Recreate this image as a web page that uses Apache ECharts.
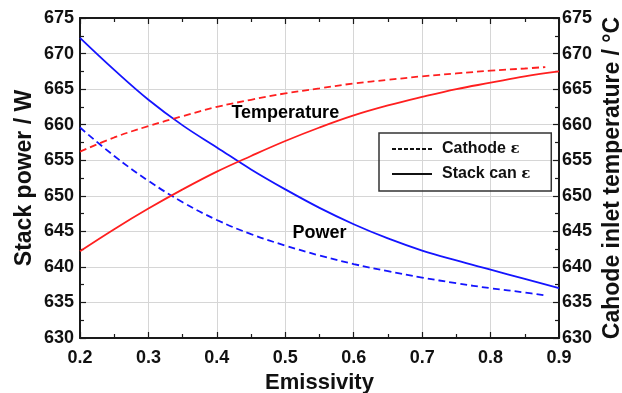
<!DOCTYPE html>
<html>
<head>
<meta charset="utf-8">
<script src="https://cdn.jsdelivr.net/npm/echarts@6/dist/echarts.min.js"></script>
<style>html,body{margin:0;padding:0;background:#fff}#c{width:622px;height:393px}</style>
</head>
<body>
<div id="c"></div>
<script>
// Emissivity values
const xStack = [0.2, 0.25, 0.3, 0.35, 0.4, 0.45, 0.5, 0.55, 0.6, 0.65, 0.7, 0.75, 0.8, 0.85, 0.9];
const xCathode = [0.2, 0.25, 0.3, 0.35, 0.4, 0.45, 0.5, 0.55, 0.6, 0.65, 0.7, 0.75, 0.8, 0.85, 0.88];
// Stack power / W
const powerStackCan = [672.2, 667.7, 663.5, 659.9, 656.8, 653.7, 650.9, 648.3, 646.0, 644.0, 642.3, 640.9, 639.6, 638.3, 637.0];
const powerCathode = [659.6, 655.6, 652.1, 649.1, 646.6, 644.6, 643.0, 641.6, 640.4, 639.4, 638.5, 637.7, 637.0, 636.4, 636.0];
// Cathode inlet temperature / °C
const tempStackCan = [642.2, 645.3, 648.2, 650.9, 653.4, 655.6, 657.7, 659.6, 661.3, 662.7, 663.9, 665.0, 665.9, 666.8, 667.5];
const tempCathode = [656.2, 658.2, 659.8, 661.2, 662.5, 663.5, 664.4, 665.1, 665.8, 666.3, 666.8, 667.2, 667.6, 667.9, 668.1];
const legendNames = ['Cathode ε', 'Stack can ε'];
const annotations = [{text: 'Temperature', coord: [0.5, 661.6]}, {text: 'Power', coord: [0.55, 644.8]}];

const pair = (xs, ys) => xs.map((x, i) => [x, ys[i]]);
const FONT = '"Liberation Sans", Arial, Helvetica, sans-serif';
const BLUE = '#1414ff', RED = '#ff1f1f';
const DASH = [7, 4];

const axisCommon = {
  axisLine: {show: true, onZero: false, lineStyle: {color: '#1a1a1a', width: 2}},
  axisTick: {show: true, inside: true, length: 6, lineStyle: {color: '#1a1a1a', width: 1.2}},
  minorTick: {show: true, splitNumber: 2, length: 4, lineStyle: {color: '#1a1a1a', width: 1.2}},
};

const chart = echarts.init(document.getElementById('c'), null, {renderer: 'canvas'});
chart.setOption({
  animation: false,
  backgroundColor: '#fff',
  grid: {left: 80, right: 63, top: 18, bottom: 55, containLabel: false, outerBoundsMode: 'none'},
  legend: {
    data: legendNames,
    orient: 'vertical',
    left: 379, top: 133,
    padding: [8, 21, 9, 12],
    borderColor: '#333', borderWidth: 1.5,
    itemWidth: 40, itemHeight: 14, itemGap: 9,
    itemStyle: {color: 'rgba(0,0,0,0)', borderColor: 'rgba(0,0,0,0)', borderWidth: 0},
    formatter: n => n.replace(' ε', '') + ' {e|ε}',
    textStyle: {
      fontFamily: FONT, fontWeight: 'bold', fontSize: 16, color: '#111', padding: [0, 0, 0, 5],
      rich: {e: {fontFamily: '"DejaVu Serif", serif', fontSize: 15, fontWeight: 'bold', color: '#111', verticalAlign: 'bottom'}}
    },
    selectedMode: false
  },
  xAxis: [
    Object.assign({}, axisCommon, {
      type: 'value', min: 0.2, max: 0.9, interval: 0.1, position: 'bottom',
      name: 'Emissivity', nameLocation: 'middle', nameGap: 34, nameMoveOverlap: false,
      nameTextStyle: {fontFamily: FONT, fontWeight: 'bold', fontSize: 22, color: '#111'},
      axisLabel: {fontFamily: FONT, fontWeight: 'bold', fontSize: 18, color: '#111', margin: 11, formatter: v => v.toFixed(1)},
      splitLine: {show: true, lineStyle: {color: '#d6d6d6', width: 1}}
    }),
    Object.assign({}, axisCommon, {
      type: 'value', min: 0.2, max: 0.9, interval: 0.1, position: 'top',
      axisLabel: {show: false}, splitLine: {show: false}
    })
  ],
  yAxis: [
    Object.assign({}, axisCommon, {
      type: 'value', min: 630, max: 675, interval: 5, position: 'left',
      name: 'Stack power / W', nameLocation: 'middle', nameGap: 44, nameRotate: 90, nameMoveOverlap: false,
      nameTextStyle: {fontFamily: FONT, fontWeight: 'bold', fontSize: 23, color: '#111'},
      axisLabel: {fontFamily: FONT, fontWeight: 'bold', fontSize: 18, color: '#111', margin: 6},
      splitLine: {show: true, lineStyle: {color: '#d6d6d6', width: 1}}
    }),
    Object.assign({}, axisCommon, {
      type: 'value', min: 630, max: 675, interval: 5, position: 'right',
      name: 'Cahode inlet temperature / °C', nameLocation: 'middle', nameGap: 42, nameRotate: 90, nameMoveOverlap: false,
      nameTextStyle: {fontFamily: FONT, fontWeight: 'bold', fontSize: 23, color: '#111'},
      axisLabel: {fontFamily: FONT, fontWeight: 'bold', fontSize: 18, color: '#111', margin: 3},
      splitLine: {show: false}
    })
  ],
  series: [
    {name: 'Stack can power', type: 'line', xAxisIndex: 0, yAxisIndex: 0, data: pair(xStack, powerStackCan),
     smooth: 0.4, showSymbol: false, lineStyle: {color: BLUE, width: 1.8}, z: 3},
    {name: 'Cathode power', type: 'line', xAxisIndex: 0, yAxisIndex: 0, data: pair(xCathode, powerCathode),
     smooth: 0.4, showSymbol: false, lineStyle: {color: BLUE, width: 1.8, type: DASH}, z: 3},
    {name: 'Stack can temperature', type: 'line', xAxisIndex: 0, yAxisIndex: 1, data: pair(xStack, tempStackCan),
     smooth: 0.4, showSymbol: false, lineStyle: {color: RED, width: 1.8}, z: 3},
    {name: 'Cathode temperature', type: 'line', xAxisIndex: 0, yAxisIndex: 1, data: pair(xCathode, tempCathode),
     smooth: 0.4, showSymbol: false, lineStyle: {color: RED, width: 1.8, type: DASH}, z: 3},
    {name: legendNames[0], type: 'line', data: [], symbol: 'none', itemStyle: {color: '#111'}, lineStyle: {color: '#111', width: 1.5, type: [4, 2]}},
    {name: legendNames[1], type: 'line', data: [], symbol: 'none', itemStyle: {color: '#111'}, lineStyle: {color: '#111', width: 1.5}},
    {name: 'labels', type: 'scatter', yAxisIndex: 0, symbolSize: 0, silent: true,
     itemStyle: {color: '#111', opacity: 1},
     data: annotations.map(a => ({value: a.coord, label: {show: true, formatter: a.text}})),
     label: {position: 'inside', fontFamily: FONT, fontWeight: 'bold', fontSize: 18, color: '#000', textBorderWidth: 0, opacity: 1}, z: 5}
  ]
});
</script>
</body>
</html>
